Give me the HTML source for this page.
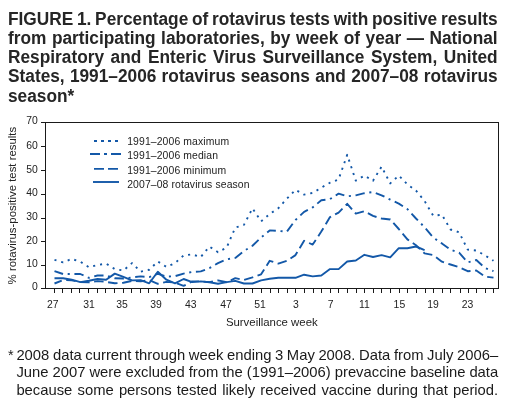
<!DOCTYPE html>
<html><head><meta charset="utf-8"><style>
html,body{margin:0;padding:0;background:#fff;width:510px;height:407px;overflow:hidden;position:relative}
.w{position:absolute;left:0;top:0;width:510px;height:407px;will-change:transform}
.t{position:absolute;left:8.4px;top:8.8px;width:518.1px;transform:scaleX(0.945);transform-origin:0 0;font:bold 18.3px/19.2px "Liberation Sans",sans-serif;word-spacing:-3px;color:#262626;text-align:justify}
.f{position:absolute;left:16.4px;top:346.7px;width:481.8px;font:14.8px/17.5px "Liberation Sans",sans-serif;word-spacing:-1px;color:#1a1a1a;text-align:justify;text-align-last:justify}
.st{position:absolute;left:8px;top:346.7px;font:14.4px/17.5px "Liberation Sans",sans-serif;color:#1a1a1a}
</style></head><body><div class="w">
<div class="t">FIGURE 1. Percentage of rotavirus tests with positive results from participating laboratories, by week of year — National Respiratory and Enteric Virus Surveillance System, United States, 1991–2006 rotavirus seasons and 2007–08 rotavirus season*</div>
<svg width="510" height="407" viewBox="0 0 510 407" style="position:absolute;left:0;top:0">
<g stroke="#1a1a1a" stroke-width="1" fill="none" shape-rendering="crispEdges">
<path d="M41,122.5 H498.5 V288.5 H41 M45.5,122 V289"/>
<path d="M41,265.5 H45.5 M41,241.5 H45.5 M41,218.5 H45.5 M41,194.5 H45.5 M41,170.5 H45.5 M41,146.5 H45.5 "/>
<path d="M54.5,288.5 V293 M62.5,288.5 V293 M71.5,288.5 V293 M79.5,288.5 V293 M88.5,288.5 V293 M97.5,288.5 V293 M105.5,288.5 V293 M114.5,288.5 V293 M123.5,288.5 V293 M131.5,288.5 V293 M140.5,288.5 V293 M148.5,288.5 V293 M157.5,288.5 V293 M166.5,288.5 V293 M174.5,288.5 V293 M183.5,288.5 V293 M191.5,288.5 V293 M201.5,288.5 V293 M209.5,288.5 V293 M217.5,288.5 V293 M226.5,288.5 V293 M235.5,288.5 V293 M244.5,288.5 V293 M252.5,288.5 V293 M261.5,288.5 V293 M270.5,288.5 V293 M278.5,288.5 V293 M287.5,288.5 V293 M295.5,288.5 V293 M304.5,288.5 V293 M313.5,288.5 V293 M321.5,288.5 V293 M330.5,288.5 V293 M338.5,288.5 V293 M347.5,288.5 V293 M356.5,288.5 V293 M364.5,288.5 V293 M373.5,288.5 V293 M381.5,288.5 V293 M390.5,288.5 V293 M399.5,288.5 V293 M407.5,288.5 V293 M416.5,288.5 V293 M425.5,288.5 V293 M433.5,288.5 V293 M442.5,288.5 V293 M450.5,288.5 V293 M460.5,288.5 V293 M468.5,288.5 V293 M476.5,288.5 V293 M485.5,288.5 V293 M493.5,288.5 V293 "/>
</g>
<g stroke="#1358a8" stroke-width="1.9" fill="none" stroke-linejoin="round">
<polyline points="54.5,259.8 63.1,262.4 71.7,258.9 80.3,261.7 88.9,267.2 97.5,265.0 106.1,263.6 114.8,269.1 123.4,270.5 132.0,263.1 140.6,271.7 149.2,269.8 157.8,261.5 166.4,266.9 175.0,263.1 183.6,255.5 192.2,254.4 200.8,257.0 209.4,246.5 218.0,252.2 226.7,247.5 235.3,227.6 243.9,224.9 252.5,208.3 261.1,221.4 269.7,214.0 278.3,208.3 286.9,198.6 295.5,189.8 304.1,194.6 312.7,192.9 321.3,187.7 330.0,182.7 338.6,179.4 347.2,154.8 355.8,180.6 364.4,175.6 373.0,180.8 381.6,166.6 390.2,183.4 398.8,175.6 407.4,184.4 416.0,190.6 424.6,201.0 433.2,215.7 441.9,214.7 450.5,229.5 459.1,232.3 467.7,249.6 476.3,250.6 484.9,255.3 493.5,260.8" stroke-dasharray="2.1 4.9" stroke-dashoffset="0.07"/>
<polyline points="54.5,271.2 63.1,274.0 71.7,274.0 80.3,274.0 88.9,277.8 97.5,275.5 106.1,275.5 114.8,278.3 123.4,278.5 132.0,277.4 140.6,276.4 149.2,277.1 157.8,273.8 166.4,276.6 175.0,276.2 183.6,273.6 192.2,271.9 200.8,271.4 209.4,268.1 218.0,263.1 226.7,259.3 235.3,257.9 243.9,251.0 252.5,245.8 261.1,237.5 269.7,230.4 278.3,230.9 286.9,231.6 295.5,220.0 304.1,211.9 312.7,207.4 321.3,200.3 330.0,199.1 338.6,193.6 347.2,196.3 355.8,195.3 364.4,193.2 373.0,192.0 381.6,195.3 390.2,199.6 398.8,203.6 407.4,209.1 416.0,218.5 424.6,227.3 433.2,237.5 441.9,243.4 450.5,249.6 459.1,252.7 467.7,262.4 476.3,260.0 484.9,267.9 493.5,271.2" stroke-dasharray="9.4 4.65 2.1 4.65" stroke-dashoffset="0.43"/>
<polyline points="54.5,283.5 63.1,280.0 71.7,280.4 80.3,282.1 88.9,282.3 97.5,281.1 106.1,281.9 114.8,283.3 123.4,282.8 132.0,280.9 140.6,281.4 149.2,280.2 157.8,283.8 166.4,281.9 175.0,282.6 183.6,285.9 192.2,281.4 200.8,281.4 209.4,282.1 218.0,280.4 226.7,282.3 235.3,278.1 243.9,280.0 252.5,277.4 261.1,274.3 269.7,260.8 278.3,263.6 286.9,260.8 295.5,255.1 304.1,240.8 312.7,244.6 321.3,231.6 330.0,217.1 338.6,212.6 347.2,203.8 355.8,213.6 364.4,211.2 373.0,215.9 381.6,218.5 390.2,219.5 398.8,229.0 407.4,239.4 416.0,245.3 424.6,253.4 433.2,255.1 441.9,261.7 450.5,264.5 459.1,267.2 467.7,271.2 476.3,270.5 484.9,276.6 493.5,277.6" stroke-dasharray="9.5 4.57" stroke-dashoffset="1.66"/>
<polyline points="54.5,278.3 63.1,278.3 71.7,279.7 80.3,282.1 88.9,280.7 97.5,279.0 106.1,279.7 114.8,273.6 123.4,276.9 132.0,280.4 140.6,280.2 149.2,283.3 157.8,271.7 166.4,279.7 175.0,283.3 183.6,279.0 192.2,282.1 200.8,281.4 209.4,282.3 218.0,283.8 226.7,282.1 235.3,280.9 243.9,283.5 252.5,283.5 261.1,280.4 269.7,278.8 278.3,277.8 286.9,277.8 295.5,277.8 304.1,274.7 312.7,276.4 321.3,275.5 330.0,269.1 338.6,269.1 347.2,261.5 355.8,260.5 364.4,254.8 373.0,257.0 381.6,255.1 390.2,257.4 398.8,248.2 407.4,248.2 416.0,246.5 424.6,250.1"/>
<path d="M94,141 H118" stroke-dasharray="3 4"/>
<path d="M90,154 H121" stroke-dasharray="10 4 3 4"/>
<path d="M94,168.9 H118" stroke-dasharray="10 4"/>
<path d="M93,182 H119"/>
</g>
<g font-family="Liberation Sans" font-size="10.4" fill="#222" text-anchor="end">
<text x="37.8" y="290.1">0</text>
<text x="37.8" y="267.1">10</text>
<text x="37.8" y="243.7">20</text>
<text x="37.8" y="220.0">30</text>
<text x="37.8" y="196.3">40</text>
<text x="37.8" y="172.6">50</text>
<text x="37.8" y="149.0">60</text>
<text x="37.8" y="124.1">70</text>
</g>
<g font-family="Liberation Sans" font-size="10.4" fill="#222" text-anchor="middle">
<text x="52.80" y="307.6">27</text>
<text x="89.00" y="307.6">31</text>
<text x="122.00" y="307.6">35</text>
<text x="156.00" y="307.6">39</text>
<text x="190.80" y="307.6">43</text>
<text x="226.10" y="307.6">47</text>
<text x="260.10" y="307.6">51</text>
<text x="296.00" y="307.6">3</text>
<text x="330.70" y="307.6">7</text>
<text x="364.40" y="307.6">11</text>
<text x="399.40" y="307.6">15</text>
<text x="433.10" y="307.6">19</text>
<text x="467.50" y="307.6">23</text>
<text x="271.8" y="325.9" font-size="11.4">Surveillance week</text>
</g>
<g font-family="Liberation Sans" font-size="10.4" fill="#222" letter-spacing="0.12">
<text x="127.2" y="144.9">1991–2006 maximum</text>
<text x="127.2" y="159.1">1991–2006 median</text>
<text x="127.2" y="173.5">1991–2006 minimum</text>
<text x="127.2" y="187.8">2007–08 rotavirus season</text>
</g>
<text transform="translate(16.3,205.6) rotate(-90)" font-family="Liberation Sans" font-size="11.4" fill="#222" text-anchor="middle">% rotavirus-positive test results</text>
</svg>
<div class="st">*</div>
<div class="f">2008 data current through week ending 3 May 2008. Data from July 2006– June 2007 were excluded from the (1991–2006) prevaccine baseline data because some persons tested likely received vaccine during that period.</div>
</div></body></html>
